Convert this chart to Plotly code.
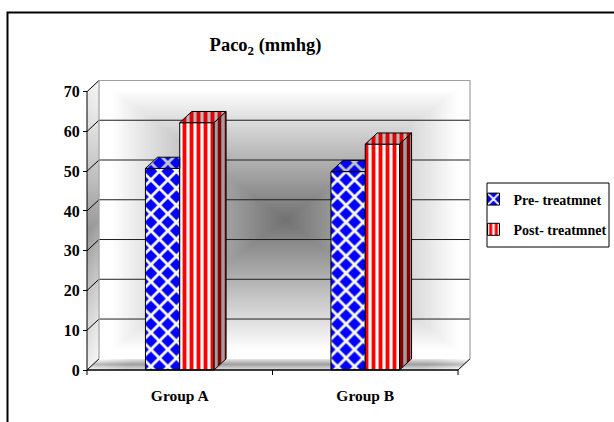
import base64
import struct
import zlib

import numpy as np
import plotly.graph_objects as go

# ---- chart data -------------------------------------------------------------
categories = ["Group A", "Group B"]
series_names = ["Pre- treatmnet", "Post- treatmnet"]
pre_values = [50.7, 49.9]
post_values = [62.2, 56.8]
y_ticks = [0, 10, 20, 30, 40, 50, 60, 70]

# ---- geometry of the pseudo-3D box (data units) ----------------------------
W_FIG, H_FIG = 614, 422
M_L, M_R, M_T, M_B = 83, 138, 78, 46
X_RANGE = [-0.5216, 1.597]
Y_RANGE = [-1.509, 73.44]
PLOT_W = W_FIG - M_L - M_R
PLOT_H = H_FIG - M_T - M_B
SX = PLOT_W / (X_RANGE[1] - X_RANGE[0])   # px per x unit
SY = PLOT_H / (Y_RANGE[1] - Y_RANGE[0])   # px per y unit

X0, X1 = -0.5, 1.5            # front edge of the category axis
YTOP = max(y_ticks)
DX = 12 / SX                  # depth offset of the box
DY = 11.2 / SY
BW = 0.185                    # width of one bar

FONT = "Liberation Serif, 'Times New Roman', serif"


def px_to_paper(px, py):
    return (px - M_L) / PLOT_W, (H_FIG - M_B - py) / PLOT_H


# ---- shading of the walls and floor rendered as a small RGBA image ---------
def png_rgba(arr):
    h, w, _ = arr.shape
    raw = b"".join(b"\x00" + arr[r].tobytes() for r in range(h))

    def chunk(tag, data):
        return (struct.pack(">I", len(data)) + tag + data
                + struct.pack(">I", zlib.crc32(tag + data) & 0xFFFFFFFF))

    ihdr = struct.pack(">IIBBBBB", w, h, 8, 6, 0, 0, 0)
    return (b"\x89PNG\r\n\x1a\n" + chunk(b"IHDR", ihdr)
            + chunk(b"IDAT", zlib.compress(raw, 9)) + chunk(b"IEND", b""))


img_w_units = (X1 - X0) + DX
img_h_units = YTOP + DY
IW = int(round(img_w_units * SX))
IH = int(round(img_h_units * SY))
jj, ii = np.meshgrid(np.arange(IW), np.arange(IH))
gx = X0 + (jj + 0.5) / IW * img_w_units
gy = img_h_units - (ii + 0.5) / IH * img_h_units

gray = np.full((IH, IW), 255.0)
alpha = np.zeros((IH, IW))

# back wall: rectangular gradient, dark in the centre
back = (gx >= X0 + DX) & (gy >= DY)
cx, cy = (X0 + X1) / 2 + DX, YTOP / 2 + DY
t = np.maximum(np.abs(gx - cx) / ((X1 - X0) / 2), np.abs(gy - cy) / (YTOP / 2))
gray = np.where(back, 114 + 141 * np.clip(t / 0.93, 0, 1), gray)
alpha = np.where(back, 255, alpha)

# left side wall
frac = (gx - X0) / DX
low = DY * frac
side = (gx < X0 + DX) & (gy >= low) & (gy <= YTOP + low)
s = np.clip((gy - low) / YTOP, 0, 1)
side_gray = 236 - 85 * (1 - np.abs(2 * s - 1)) ** 1.3 + 10 * frac
gray = np.where(side, side_gray, gray)
alpha = np.where(side, 255, alpha)

# floor
f = np.clip(gy / DY, 0, 1)
floor = (gy < DY) & (gx >= X0 + DX * f) & (gx <= X1 + DX * f)
u = np.abs(gx - ((X0 + X1) / 2 + DX * f)) / ((X1 - X0) / 2)
floor_gray = 160 + 70 * np.abs(2 * f - 1) + 150 * np.clip(u - 0.8, 0, 1)
gray = np.where(floor, np.clip(floor_gray, 0, 250), gray)
alpha = np.where(floor, 255, alpha)

g8 = np.clip(gray, 0, 255).astype(np.uint8)
rgba = np.dstack([g8, g8, g8, alpha.astype(np.uint8)])
wall_png = "data:image/png;base64," + base64.b64encode(png_rgba(rgba)).decode()

# ---- figure -----------------------------------------------------------------
xpos = list(range(len(categories)))
# blue diamonds separated by a light lattice
diamonds = dict(shape="x", size=12, solidity=0.42, fgcolor="#fbfbe6",
                bgcolor="#0000ff", fillmode="replace")
stripes = dict(shape="|", size=7, solidity=0.55, fgcolor="#ff0000",
               bgcolor="#ffffff", fillmode="replace")

fig = go.Figure()
fig.add_trace(go.Bar(
    x=xpos, y=pre_values, name=series_names[0], width=BW, offset=-BW,
    marker=dict(pattern=diamonds, line=dict(color="black", width=1)),
    legendgroup="pre", hoverinfo="skip",
))
fig.add_trace(go.Bar(
    x=xpos, y=post_values, name=series_names[1], width=BW, offset=0,
    marker=dict(pattern=stripes, line=dict(color="black", width=1)),
    legendgroup="post", hoverinfo="skip",
))


def face(xs, ys, pattern):
    fig.add_trace(go.Scatter(
        x=xs + [xs[0]], y=ys + [ys[0]], mode="lines", fill="toself",
        fillpattern=pattern, line=dict(color="black", width=1),
        showlegend=False, hoverinfo="skip",
    ))


pre_top = dict(diamonds, fgcolor="#c4c4c4")
post_top = dict(stripes, bgcolor="#b8b8b8", fgcolor="#e00000")
post_side = dict(shape="|", size=7, solidity=0.5, fgcolor="#8b0000",
                 bgcolor="#a0a0a0", fillmode="replace")

for xc, vp, vq in zip(xpos, pre_values, post_values):
    a, b, c = xc - BW, xc, xc + BW
    # top of the front series, partly hidden behind the second bar
    if vq >= vp + DY:
        face([a, b, b, a + DX], [vp, vp, vp + DY, vp + DY], pre_top)
    else:
        face([a, b, b + DX, a + DX], [vp, vp, vp + DY, vp + DY], pre_top)
    # top and right side of the second series
    face([b, c, c + DX, b + DX], [vq, vq, vq + DY, vq + DY], post_top)
    face([c, c, c + DX, c + DX], [0, vq, vq + DY, DY], post_side)

shapes = []
# grid on the back wall and on the side wall
for v in y_ticks:
    if 0 < v < YTOP:
        shapes.append(dict(type="line", layer="between", x0=X0 + DX, x1=X1 + DX,
                           y0=v + DY, y1=v + DY, line=dict(color="#1e1e1e", width=1)))
    shapes.append(dict(type="line", layer="between", x0=X0, x1=X0 + DX,
                       y0=v, y1=v + DY, line=dict(color="black", width=1)))
# outline of the back wall
shapes.append(dict(type="path", layer="between",
                   path=f"M{X0 + DX},{DY} L{X0 + DX},{YTOP + DY} L{X1 + DX},{YTOP + DY} L{X1 + DX},{DY}",
                   line=dict(color="#a0a0a0", width=1.2)))
# front axes
shapes.append(dict(type="line", layer="above", x0=X0, x1=X0, y0=0, y1=YTOP,
                   line=dict(color="black", width=1)))
shapes.append(dict(type="line", layer="above", x0=X0, x1=X1, y0=0, y1=0,
                   line=dict(color="black", width=1.3)))
shapes.append(dict(type="line", layer="above", x0=X1, x1=X1 + DX, y0=0, y1=DY,
                   line=dict(color="black", width=1)))
for xb in [X0] + [p + 0.5 for p in xpos]:
    shapes.append(dict(type="line", layer="above", x0=xb, x1=xb, y0=0, y1=-5 / SY,
                       line=dict(color="black", width=1)))
# legend box
lx0, ly0 = px_to_paper(487, 183)
lx1, ly1 = px_to_paper(609, 247)
shapes.append(dict(type="rect", xref="paper", yref="paper", layer="above",
                   x0=lx0, x1=lx1, y0=ly1, y1=ly0,
                   line=dict(color="black", width=1), fillcolor="rgba(0,0,0,0)"))
# outer frame
fx0, fy0 = px_to_paper(7.5, 12.5)
fx1, fy1 = px_to_paper(640, 450)
shapes.append(dict(type="rect", xref="paper", yref="paper", layer="above",
                   x0=fx0, x1=fx1, y0=fy1, y1=fy0,
                   line=dict(color="black", width=2), fillcolor="rgba(0,0,0,0)"))

leg_x, leg_y = px_to_paper(473.5, 183.5)

fig.update_layout(
    width=W_FIG, height=H_FIG,
    margin=dict(l=M_L, r=M_R, t=M_T, b=M_B, pad=0, autoexpand=False),
    paper_bgcolor="white", plot_bgcolor="white",
    barmode="overlay",
    font=dict(family=FONT, color="black", size=15, weight="bold"),
    title=dict(text="Paco<sub>2</sub> (mmhg)", x=265.5 / W_FIG, xanchor="center",
               xref="container", y=1 - 45 / H_FIG, yref="container", yanchor="middle",
               font=dict(family=FONT, size=18.5, color="black", weight="bold")),
    xaxis=dict(range=X_RANGE, tickvals=xpos, ticktext=categories, ticks="",
               showgrid=False, zeroline=False, showline=False,
               tickfont=dict(family=FONT, size=15.5, color="black", weight="bold"),
               ticklabelstandoff=8, fixedrange=True),
    yaxis=dict(range=Y_RANGE, tickvals=y_ticks, ticks="outside", ticklen=4,
               tickcolor="black", showgrid=False, zeroline=False, showline=False,
               anchor="free", position=(X0 - X_RANGE[0]) / (X_RANGE[1] - X_RANGE[0]),
               tickfont=dict(family=FONT, size=16, color="black", weight="bold"),
               fixedrange=True),
    legend=dict(x=leg_x, y=leg_y, xanchor="left", yanchor="top",
                bgcolor="rgba(0,0,0,0)", borderwidth=0, tracegroupgap=9,
                traceorder="grouped",
                font=dict(family=FONT, size=14, color="black", weight="bold")),
    images=[dict(source=wall_png, xref="x", yref="y", x=X0, y=img_h_units,
                 sizex=img_w_units, sizey=img_h_units, xanchor="left", yanchor="top",
                 sizing="stretch", layer="below")],
    shapes=shapes,
)

fig.write_html("out.html")
